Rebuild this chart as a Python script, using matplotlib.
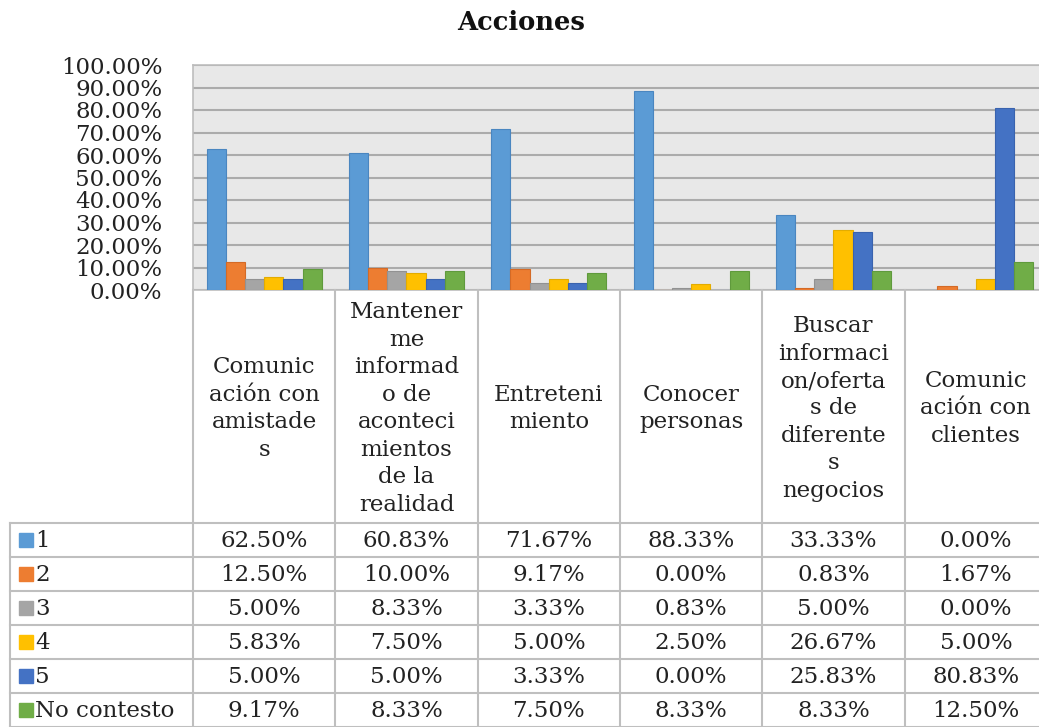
import matplotlib.pyplot as plt
from matplotlib.ticker import FuncFormatter

# datos
categorias = ["Comunic\nación con\namistade\ns",
              "Mantener\nme\ninformad\no de\naconteci\nmientos\nde la\nrealidad",
              "Entreteni\nmiento",
              "Conocer\npersonas",
              "Buscar\ninformaci\non/oferta\ns de\ndiferente\ns\nnegocios",
              "Comunic\nación con\nclientes"]
series = ["1", "2", "3", "4", "5", "No contesto"]
v1 = [62.50, 60.83, 71.67, 88.33, 33.33, 0.00]
v2 = [12.50, 10.00, 9.17, 0.00, 0.83, 1.67]
v3 = [5.00, 8.33, 3.33, 0.83, 5.00, 0.00]
v4 = [5.83, 7.50, 5.00, 2.50, 26.67, 5.00]
v5 = [5.00, 5.00, 3.33, 0.00, 25.83, 80.83]
v_nc = [9.17, 8.33, 7.50, 8.33, 8.33, 12.50]
valores = [v1, v2, v3, v4, v5, v_nc]
colores = ['#5B9BD5', '#ED7D31', '#A5A5A5', '#FFC000', '#4472C4', '#70AD47']
bordes = ['#4A86C0', '#D46A26', '#929292', '#E3AC00', '#3A63AE', '#5F9A3C']

plt.rcParams['font.family'] = ['DejaVu Serif']
fs = 16.5
W, H = 1039, 727
fig = plt.figure(figsize=(W / 100, H / 100), dpi=100)

#------------------------------------------------------------------------------
# grafico de barras
col_w = 142.33
ax = fig.add_axes([193 / W, 1 - 290 / H, 6 * col_w / W, 225 / H])
ax.set_facecolor('#E8E8E8')
n = len(categorias)
ancho = 0.135
for j, vals in enumerate(valores):
    xs = [i + 0.5 + (j - 2.5) * ancho for i in range(n)]
    ax.bar(xs, vals, width=ancho, color=colores[j], edgecolor=bordes[j],
           linewidth=0.8, zorder=3)
ax.set_xlim(0, n)
ax.set_ylim(0, 100)
ax.set_yticks(range(0, 101, 10))
ax.yaxis.set_major_formatter(FuncFormatter(lambda v, p: '%.2f%%' % v))
ax.tick_params(axis='y', length=0, pad=22, labelsize=fs, labelcolor='#222222')
ax.set_xticks([])
ax.yaxis.grid(True, color='#ABABAB', linewidth=1.5, zorder=0)
for s in ax.spines.values():
    s.set_color('#BDBDBD')
    s.set_linewidth(1.2)

fig.text(521 / W, 1 - 23 / H, 'Acciones', fontsize=18.5, fontweight='bold',
         ha='center', va='center', color='#111111')

#------------------------------------------------------------------------------
# tabla de datos
x0 = -183 / col_w
tax = fig.add_axes([10 / W, 0, (183 + 6 * col_w) / W, 437 / H])
tax.set_xlim(x0, n)
tax.set_ylim(437, 0)
tax.axis('off')
lc = '#BFBFBF'
hdr = 233
fila = 34
for i in range(n + 1):
    tax.plot([i, i], [0, 437], color=lc, lw=1.5, clip_on=False)
tax.plot([x0, x0], [hdr, 437], color=lc, lw=1.5, clip_on=False)
for k in range(len(series) + 1):
    y = hdr + k * fila
    tax.plot([x0, n], [y, y], color=lc, lw=1.5, clip_on=False)

for i, cat in enumerate(categorias):
    tax.text(i + 0.5, hdr / 2 + 2, cat, ha='center', va='center',
             fontsize=fs, linespacing=1.32, color='#222222')

for k, nombre in enumerate(series):
    yc = hdr + k * fila + fila / 2
    tax.plot([x0 + 16 / col_w], [yc], marker='s', markersize=10,
             color=colores[k], markeredgecolor=colores[k], clip_on=False)
    tax.text(x0 + 25 / col_w, yc + 1, nombre, ha='left', va='center',
             fontsize=fs, color='#222222')
    for i in range(n):
        tax.text(i + 0.5, yc + 1, '%.2f%%' % valores[k][i], ha='center',
                 va='center', fontsize=fs, color='#222222')

fig.savefig('out.png', dpi=100)
